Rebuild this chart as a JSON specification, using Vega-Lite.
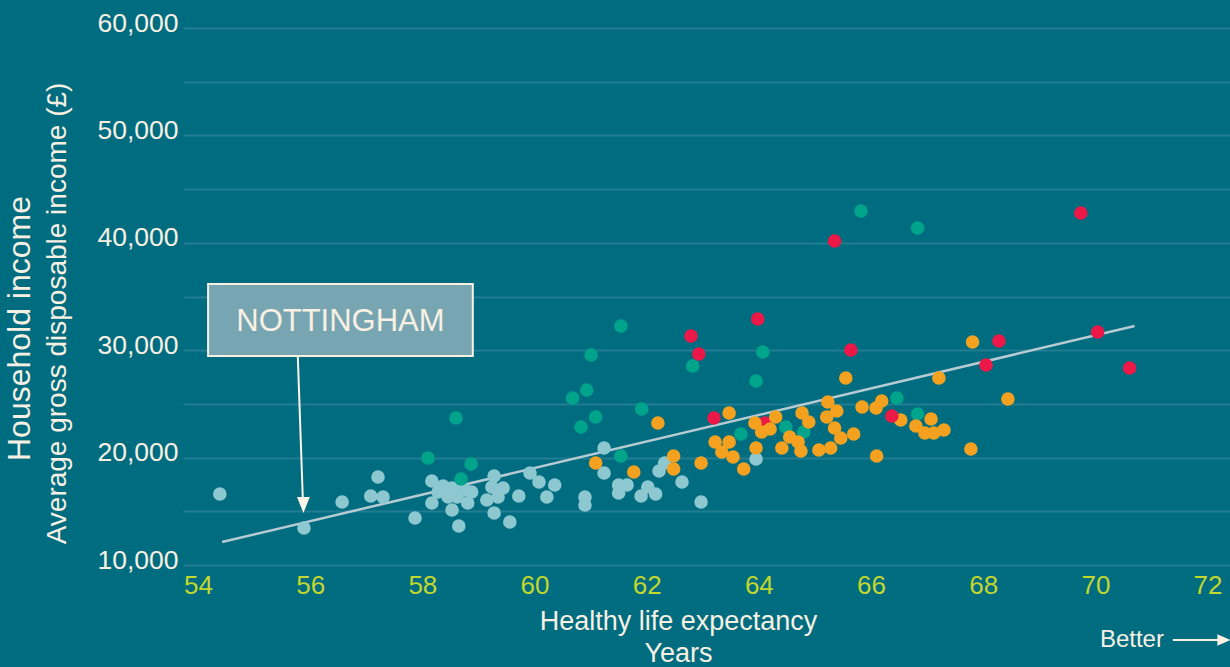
{
  "$schema": "https://vega.github.io/schema/vega-lite/v6.json",
  "width": 1047,
  "height": 537,
  "autosize": {"type": "none"},
  "padding": {"left": 183, "top": 28, "right": 0, "bottom": 102},
  "background": "#006c80",
  "config": {
    "view": {"stroke": null},
    "font": "Liberation Sans",
    "title": {"font": "Liberation Sans"}
  },
  "title": {
    "text": "Household income",
    "orient": "left",
    "anchor": "middle",
    "fontSize": 32,
    "fontWeight": "normal",
    "color": "#f8f0e3",
    "offset": 6,
    "dx": -32
  },
  "datasets": {
    "areas": [
      {"hle": 54.39, "income": 16610, "group": "Group 1"},
      {"hle": 55.89, "income": 13445, "group": "Group 1"},
      {"hle": 56.57, "income": 15865, "group": "Group 1"},
      {"hle": 57.08, "income": 16424, "group": "Group 1"},
      {"hle": 57.21, "income": 18193, "group": "Group 1"},
      {"hle": 57.30, "income": 16331, "group": "Group 1"},
      {"hle": 57.87, "income": 14376, "group": "Group 1"},
      {"hle": 58.17, "income": 17820, "group": "Group 1"},
      {"hle": 58.37, "income": 17355, "group": "Group 1"},
      {"hle": 58.53, "income": 17169, "group": "Group 1"},
      {"hle": 58.28, "income": 16796, "group": "Group 1"},
      {"hle": 58.46, "income": 16331, "group": "Group 1"},
      {"hle": 58.62, "income": 16331, "group": "Group 1"},
      {"hle": 58.76, "income": 16983, "group": "Group 1"},
      {"hle": 58.88, "income": 16796, "group": "Group 1"},
      {"hle": 58.17, "income": 15772, "group": "Group 1"},
      {"hle": 58.53, "income": 15121, "group": "Group 1"},
      {"hle": 58.81, "income": 15772, "group": "Group 1"},
      {"hle": 58.65, "income": 13631, "group": "Group 1"},
      {"hle": 59.15, "income": 16052, "group": "Group 1"},
      {"hle": 59.28, "income": 18286, "group": "Group 1"},
      {"hle": 59.24, "income": 17262, "group": "Group 1"},
      {"hle": 59.44, "income": 17169, "group": "Group 1"},
      {"hle": 59.35, "income": 16331, "group": "Group 1"},
      {"hle": 59.28, "income": 14841, "group": "Group 1"},
      {"hle": 59.56, "income": 14003, "group": "Group 1"},
      {"hle": 59.72, "income": 16424, "group": "Group 1"},
      {"hle": 59.92, "income": 18565, "group": "Group 1"},
      {"hle": 60.08, "income": 17727, "group": "Group 1"},
      {"hle": 60.36, "income": 17448, "group": "Group 1"},
      {"hle": 60.22, "income": 16331, "group": "Group 1"},
      {"hle": 60.90, "income": 16331, "group": "Group 1"},
      {"hle": 60.90, "income": 15586, "group": "Group 1"},
      {"hle": 61.24, "income": 20893, "group": "Group 1"},
      {"hle": 61.24, "income": 18565, "group": "Group 1"},
      {"hle": 61.50, "income": 17448, "group": "Group 1"},
      {"hle": 61.65, "income": 17448, "group": "Group 1"},
      {"hle": 61.50, "income": 16703, "group": "Group 1"},
      {"hle": 61.90, "income": 16424, "group": "Group 1"},
      {"hle": 62.02, "income": 17262, "group": "Group 1"},
      {"hle": 62.16, "income": 16610, "group": "Group 1"},
      {"hle": 62.22, "income": 18751, "group": "Group 1"},
      {"hle": 62.32, "income": 19496, "group": "Group 1"},
      {"hle": 62.63, "income": 17727, "group": "Group 1"},
      {"hle": 62.97, "income": 15865, "group": "Group 1"},
      {"hle": 63.95, "income": 19869, "group": "Group 1"},
      {"hle": 58.10, "income": 19960, "group": "Group 2"},
      {"hle": 58.60, "income": 23686, "group": "Group 2"},
      {"hle": 58.87, "income": 19403, "group": "Group 2"},
      {"hle": 58.69, "income": 18007, "group": "Group 2"},
      {"hle": 60.68, "income": 25548, "group": "Group 2"},
      {"hle": 60.93, "income": 26293, "group": "Group 2"},
      {"hle": 60.83, "income": 22848, "group": "Group 2"},
      {"hle": 61.09, "income": 23779, "group": "Group 2"},
      {"hle": 61.01, "income": 29551, "group": "Group 2"},
      {"hle": 61.54, "income": 32251, "group": "Group 2"},
      {"hle": 61.91, "income": 24524, "group": "Group 2"},
      {"hle": 61.54, "income": 20148, "group": "Group 2"},
      {"hle": 62.82, "income": 28527, "group": "Group 2"},
      {"hle": 64.07, "income": 29830, "group": "Group 2"},
      {"hle": 63.95, "income": 27130, "group": "Group 2"},
      {"hle": 63.68, "income": 22196, "group": "Group 2"},
      {"hle": 64.48, "income": 22848, "group": "Group 2"},
      {"hle": 64.80, "income": 22382, "group": "Group 2"},
      {"hle": 65.82, "income": 42957, "group": "Group 2"},
      {"hle": 66.83, "income": 41375, "group": "Group 2"},
      {"hle": 66.46, "income": 25548, "group": "Group 2"},
      {"hle": 66.83, "income": 24058, "group": "Group 2"},
      {"hle": 62.79, "income": 31320, "group": "Group 4"},
      {"hle": 62.93, "income": 29644, "group": "Group 4"},
      {"hle": 63.98, "income": 32903, "group": "Group 4"},
      {"hle": 63.20, "income": 23686, "group": "Group 4"},
      {"hle": 64.11, "income": 23220, "group": "Group 4"},
      {"hle": 65.35, "income": 40164, "group": "Group 4"},
      {"hle": 65.64, "income": 30017, "group": "Group 4"},
      {"hle": 68.28, "income": 30854, "group": "Group 4"},
      {"hle": 68.05, "income": 28620, "group": "Group 4"},
      {"hle": 69.74, "income": 42771, "group": "Group 4"},
      {"hle": 70.04, "income": 31692, "group": "Group 4"},
      {"hle": 70.61, "income": 28341, "group": "Group 4"},
      {"hle": 61.09, "income": 19496, "group": "Group 3"},
      {"hle": 61.77, "income": 18658, "group": "Group 3"},
      {"hle": 62.20, "income": 23220, "group": "Group 3"},
      {"hle": 62.48, "income": 20148, "group": "Group 3"},
      {"hle": 62.48, "income": 18938, "group": "Group 3"},
      {"hle": 62.97, "income": 19496, "group": "Group 3"},
      {"hle": 63.22, "income": 21451, "group": "Group 3"},
      {"hle": 63.47, "income": 24151, "group": "Group 3"},
      {"hle": 63.47, "income": 21451, "group": "Group 3"},
      {"hle": 63.34, "income": 20520, "group": "Group 3"},
      {"hle": 63.54, "income": 20055, "group": "Group 3"},
      {"hle": 63.73, "income": 18938, "group": "Group 3"},
      {"hle": 63.95, "income": 20893, "group": "Group 3"},
      {"hle": 63.93, "income": 23220, "group": "Group 3"},
      {"hle": 64.05, "income": 22382, "group": "Group 3"},
      {"hle": 64.20, "income": 22662, "group": "Group 3"},
      {"hle": 64.30, "income": 23779, "group": "Group 3"},
      {"hle": 64.41, "income": 20893, "group": "Group 3"},
      {"hle": 64.55, "income": 21917, "group": "Group 3"},
      {"hle": 64.70, "income": 21451, "group": "Group 3"},
      {"hle": 64.75, "income": 20613, "group": "Group 3"},
      {"hle": 64.77, "income": 24151, "group": "Group 3"},
      {"hle": 64.89, "income": 23313, "group": "Group 3"},
      {"hle": 65.07, "income": 20707, "group": "Group 3"},
      {"hle": 65.28, "income": 20893, "group": "Group 3"},
      {"hle": 65.23, "income": 25175, "group": "Group 3"},
      {"hle": 65.39, "income": 24337, "group": "Group 3"},
      {"hle": 65.21, "income": 23779, "group": "Group 3"},
      {"hle": 65.35, "income": 22755, "group": "Group 3"},
      {"hle": 65.46, "income": 21824, "group": "Group 3"},
      {"hle": 65.69, "income": 22196, "group": "Group 3"},
      {"hle": 65.55, "income": 27410, "group": "Group 3"},
      {"hle": 65.84, "income": 24710, "group": "Group 3"},
      {"hle": 66.09, "income": 24617, "group": "Group 3"},
      {"hle": 66.19, "income": 25268, "group": "Group 3"},
      {"hle": 66.10, "income": 20148, "group": "Group 3"},
      {"hle": 66.53, "income": 23500, "group": "Group 3"},
      {"hle": 66.80, "income": 22941, "group": "Group 3"},
      {"hle": 67.07, "income": 23593, "group": "Group 3"},
      {"hle": 66.96, "income": 22289, "group": "Group 3"},
      {"hle": 67.12, "income": 22289, "group": "Group 3"},
      {"hle": 67.30, "income": 22569, "group": "Group 3"},
      {"hle": 67.21, "income": 27410, "group": "Group 3"},
      {"hle": 67.81, "income": 30761, "group": "Group 3"},
      {"hle": 67.78, "income": 20800, "group": "Group 3"},
      {"hle": 68.44, "income": 25455, "group": "Group 3"},
      {"hle": 66.37, "income": 23872, "group": "Group 4"}
    ],
    "trend": [
      {"hle": 54.43, "income": 12141},
      {"hle": 70.70, "income": 32253}
    ],
    "callout": [
      {"label": "NOTTINGHAM", "hle": 54.18, "hle2": 58.90, "income": 29460, "income2": 36164, "mid_hle": 56.54, "mid_income": 32600}
    ],
    "pointer": [
      {"hle": 55.78, "income": 29365, "hle2": 55.87, "income2": 16052}
    ],
    "pointer_head": [
      {"hle": 55.88, "income": 15586}
    ],
    "better": [
      {"label": "Better", "hle": 70.08, "income": 3018}
    ],
    "better_line": [
      {"hle": 71.38, "hle2": 72.2, "income": 3018}
    ],
    "better_head": [
      {"hle": 72.29, "income": 3018}
    ]
  },
  "encoding": {
    "x": {
      "field": "hle",
      "type": "quantitative",
      "scale": {"domain": [53.733, 72.4], "nice": false, "zero": false},
      "axis": {
        "values": [54, 56, 58, 60, 62, 64, 66, 68, 70, 72],
        "format": "d",
        "grid": false,
        "ticks": false,
        "domain": false,
        "labelFontSize": 26,
        "labelColor": "#c3d72e",
        "labelBaseline": "middle",
        "labelPadding": 20,
        "labelFlush": false,
        "labelOverlap": false,
        "labelFont": "Liberation Sans",
        "title": ["Healthy life expectancy", "Years"],
        "titleFont": "Liberation Sans",
        "titleFontSize": 27,
        "titleFontWeight": "normal",
        "titleColor": "#f8f0e3",
        "titleX": 495,
        "titleY": 64,
        "titleAlign": "center",
        "titleBaseline": "alphabetic",
        "titleLineHeight": 32
      }
    },
    "y": {
      "field": "income",
      "type": "quantitative",
      "scale": {"domain": [10000, 60000], "nice": false, "zero": false},
      "axis": {
        "values": [10000, 15000, 20000, 25000, 30000, 35000, 40000, 45000, 50000, 55000, 60000],
        "labelExpr": "datum.value % 10000 === 0 ? format(datum.value, ',') : ''",
        "grid": true,
        "gridColor": "#237c90",
        "gridWidth": 2,
        "ticks": false,
        "domain": false,
        "labelFontSize": 26.5,
        "labelColor": "#f8f0e3",
        "labelFont": "Liberation Sans",
        "labelPadding": 5,
        "labelBaseline": "middle",
        "labelOffset": -5,
        "labelFlush": false,
        "labelOverlap": false,
        "title": "Average gross disposable income (£)",
        "titleFont": "Liberation Sans",
        "titleFontSize": 28,
        "titleFontWeight": "normal",
        "titleColor": "#f8f0e3",
        "titleX": -126,
        "titleY": 285,
        "titleAngle": 270,
        "titleAlign": "center",
        "titleBaseline": "middle"
      }
    }
  },
  "layer": [
    {
      "data": {"name": "trend"},
      "mark": {"type": "line", "color": "#b7cbd4", "strokeWidth": 2.5}
    },
    {
      "data": {"name": "areas"},
      "mark": {"type": "circle", "size": 185, "opacity": 1},
      "encoding": {
        "color": {
          "field": "group",
          "type": "nominal",
          "scale": {
            "domain": ["Group 1", "Group 2", "Group 3", "Group 4"],
            "range": ["#8dc8d0", "#00a48b", "#f4a11f", "#eb1848"]
          },
          "legend": null
        }
      }
    },
    {
      "data": {"name": "callout"},
      "mark": {"type": "rect", "fill": "#77a5b1", "stroke": "#f8f0e3", "strokeWidth": 2},
      "encoding": {
        "x2": {"field": "hle2"},
        "y2": {"field": "income2"}
      }
    },
    {
      "data": {"name": "callout"},
      "mark": {"type": "text", "fontSize": 31, "color": "#f8f0e3", "align": "center", "baseline": "middle", "font": "Liberation Sans"},
      "encoding": {
        "x": {"field": "mid_hle", "type": "quantitative"},
        "y": {"field": "mid_income", "type": "quantitative"},
        "text": {"field": "label"}
      }
    },
    {
      "data": {"name": "pointer"},
      "mark": {"type": "rule", "color": "#fdf3e6", "strokeWidth": 2},
      "encoding": {
        "x2": {"field": "hle2"},
        "y2": {"field": "income2"}
      }
    },
    {
      "data": {"name": "pointer_head"},
      "mark": {"type": "point", "shape": "M-0.8,-1L0.8,-1L0,1Z", "size": 256, "filled": true, "color": "#fdf3e6", "opacity": 1}
    },
    {
      "data": {"name": "better"},
      "mark": {"type": "text", "fontSize": 24, "color": "#f8f0e3", "align": "left", "baseline": "middle", "font": "Liberation Sans"},
      "encoding": {
        "text": {"field": "label"}
      }
    },
    {
      "data": {"name": "better_line"},
      "mark": {"type": "rule", "color": "#f8f0e3", "strokeWidth": 2},
      "encoding": {
        "x2": {"field": "hle2"}
      }
    },
    {
      "data": {"name": "better_head"},
      "mark": {"type": "point", "shape": "M-1,-0.9L1,0L-1,0.9Z", "size": 169, "filled": true, "color": "#f8f0e3", "opacity": 1}
    }
  ]
}
